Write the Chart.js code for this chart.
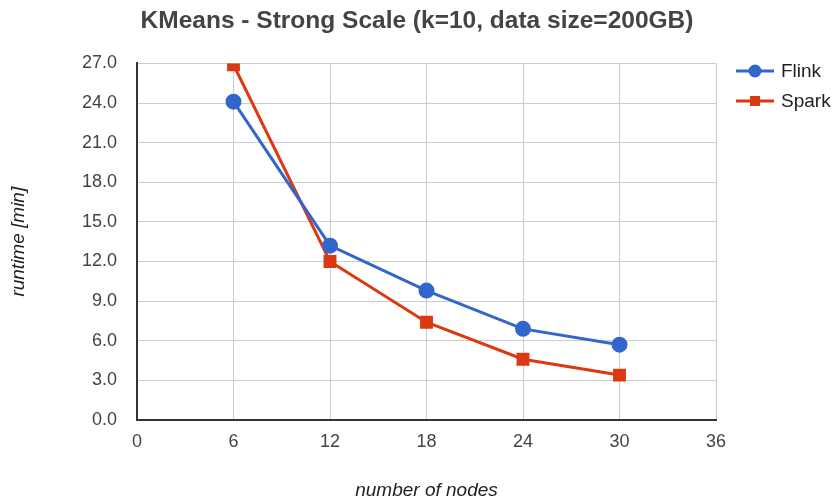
<!DOCTYPE html>
<html>
<head>
<meta charset="utf-8">
<script src="https://cdn.jsdelivr.net/npm/chart.js@4/dist/chart.umd.min.js"></script>
<style>
  html, body { margin: 0; padding: 0; background: #fff; }
  #wrap { width: 834px; height: 499px; }
</style>
</head>
<body>
<div id="wrap"><canvas id="c" width="834" height="499"></canvas></div>
<script>
const titleText = 'KMeans - Strong Scale (k=10, data size=200GB)';
const xTitle = 'number of nodes';
const yTitle = 'runtime [min]';
const nodes = [6, 12, 18, 24, 30];
const flink = [24.1, 13.2, 9.8, 6.9, 5.7];
const spark = [26.9, 12.0, 7.4, 4.6, 3.4];
const seriesNames = ['Flink', 'Spark'];
const xTicks = [0, 6, 12, 18, 24, 30, 36];
const yTicks = [0, 3, 6, 9, 12, 15, 18, 21, 24, 27];

const FONT = "'Liberation Sans', Arial, sans-serif";
const colors = ['#3366cc', '#dc3912'];
const styles = ['circle', 'rect'];

const toPts = (arr) => arr.map((v, i) => ({ x: nodes[i], y: v }));

const legendPlugin = {
  id: 'sideLegend',
  afterDraw(chart) {
    const ctx = chart.ctx;
    const ys = [71, 101];
    ctx.save();
    chart.data.datasets.forEach((ds, i) => {
      const y = ys[i];
      ctx.strokeStyle = ds.borderColor;
      ctx.lineWidth = 3;
      ctx.beginPath();
      ctx.moveTo(736, y);
      ctx.lineTo(774, y);
      ctx.stroke();
      ctx.fillStyle = ds.backgroundColor;
      if (ds.pointStyle === 'circle') {
        ctx.beginPath();
        ctx.arc(755, y, 6.5, 0, Math.PI * 2);
        ctx.fill();
      } else {
        ctx.fillRect(750, y - 5, 10, 10);
      }
      ctx.fillStyle = '#222';
      ctx.font = '19px ' + FONT;
      ctx.textBaseline = 'middle';
      ctx.textAlign = 'left';
      ctx.fillText(ds.label, 781, y + 1);
    });
    ctx.restore();
  }
};

new Chart(document.getElementById('c'), {
  type: 'line',
  data: {
    datasets: [
      { label: seriesNames[0], data: toPts(flink), borderColor: colors[0], backgroundColor: colors[0],
        borderWidth: 3, pointStyle: styles[0], pointRadius: 6.5, pointHoverRadius: 6.5, tension: 0 },
      { label: seriesNames[1], data: toPts(spark), borderColor: colors[1], backgroundColor: colors[1],
        borderWidth: 3, pointStyle: styles[1], pointRadius: 7, pointHoverRadius: 7, tension: 0 }
    ]
  },
  options: {
    responsive: false,
    animation: false,
    devicePixelRatio: 1,
    layout: { padding: { left: 0, right: 0, top: 0, bottom: 0 } },
    plugins: {
      legend: { display: false },
      tooltip: { enabled: false },
      title: {
        display: true, text: titleText, color: '#444',
        font: { family: FONT, size: 24.5, weight: 'bold', lineHeight: 1.2 },
        padding: { top: 7, bottom: 27 }
      }
    },
    scales: {
      x: {
        type: 'linear', min: 0, max: 36,
        afterBuildTicks: (s) => { s.ticks = xTicks.map(v => ({ value: v })); },
        afterFit: (s) => { s.height = 79; },
        grid: { color: '#cccccc', lineWidth: 1, drawTicks: false },
        border: { color: '#333', width: 2 },
        ticks: { color: '#444', padding: 11, font: { family: FONT, size: 18 } },
        title: { display: true, text: xTitle, color: '#222',
          font: { family: FONT, size: 19, style: 'italic', lineHeight: 1 }, padding: { top: 0, bottom: -1 } }
      },
      y: {
        type: 'linear', min: 0, max: 27,
        afterBuildTicks: (s) => { s.ticks = yTicks.map(v => ({ value: v })); },
        afterFit: (s) => { s.width = 137; },
        grid: { color: '#cccccc', lineWidth: 1, drawTicks: false },
        border: { color: '#333', width: 2 },
        ticks: { color: '#444', padding: 20, font: { family: FONT, size: 18 },
          callback: (v) => Number(v).toFixed(1) },
        title: { display: true, text: yTitle, color: '#222',
          font: { family: FONT, size: 19, style: 'italic', lineHeight: 1 }, padding: { top: 9, bottom: 0 } }
      },
      y2: {
        type: 'linear', position: 'right', min: 0, max: 27, display: true,
        afterFit: (s) => { s.width = 118; },
        grid: { display: false, drawTicks: false },
        border: { display: false },
        ticks: { display: false }
      }
    }
  },
  plugins: [legendPlugin]
});
</script>
</body>
</html>
